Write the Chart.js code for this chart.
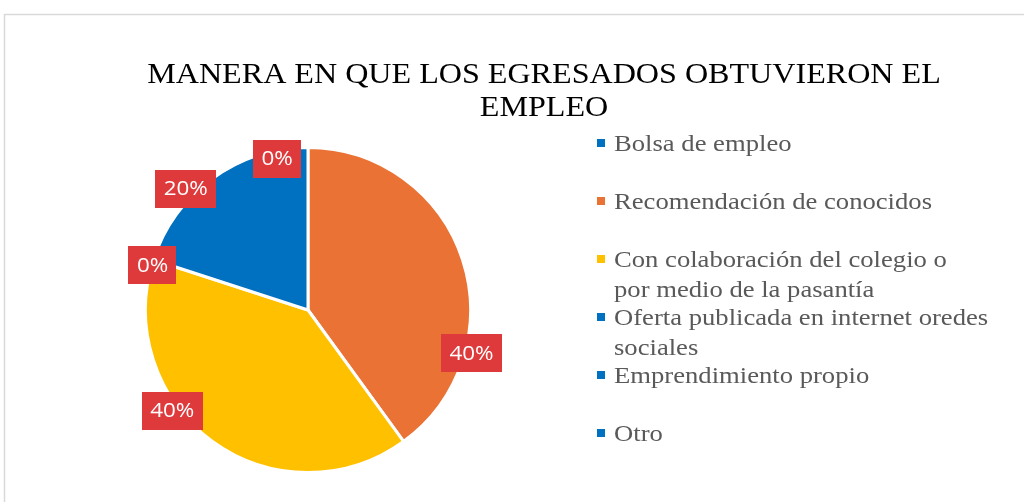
<!DOCTYPE html>
<html>
<head>
<meta charset="utf-8">
<script src="https://cdn.jsdelivr.net/npm/chart.js@4"></script>
<style>
html,body{margin:0;padding:0;background:#fff;overflow:hidden;}
#wrap{position:relative;width:1024px;height:502px;}
</style>
</head>
<body>
<div id="wrap"><canvas id="c" width="1024" height="502"></canvas></div>
<script>
// ---- data ----
const titleLines = ["MANERA EN QUE LOS EGRESADOS OBTUVIERON EL", "EMPLEO"];
const categories = [
  ["Bolsa de empleo"],
  ["Recomendación de conocidos"],
  ["Con colaboración del colegio o", "por medio de la pasantía"],
  ["Oferta publicada en internet oredes", "sociales"],
  ["Emprendimiento propio"],
  ["Otro"]
];
const values = [0, 40, 40, 0, 20, 0];
const sliceColors = ["#0070C0", "#E97234", "#FFC000", "#0070C0", "#0070C0", "#0070C0"];

// label placement styling (angle offset in degrees from slice middle, radius factor)
const labelAngleOffset = [-11.5, 32.7, 17.4, -2, -9.2, -11.5];
const labelRadiusFactor = [0.95, 1.04, 1.04, 0.995, 1.06, 0.95];

function scaledText(ctx, txt, x, y, sx) {
  ctx.save();
  ctx.translate(x, y);
  ctx.scale(sx, 1);
  ctx.fillText(txt, 0, 0);
  ctx.restore();
}

const framePlugin = {
  id: 'frame',
  beforeDraw(chart) {
    const ctx = chart.ctx;
    ctx.save();
    ctx.fillStyle = '#fff';
    ctx.fillRect(0, 0, chart.width, chart.height);
    ctx.strokeStyle = '#D9D9D9';
    ctx.lineWidth = 1.5;
    ctx.strokeRect(4.5, 14.5, 1040, 520);
    ctx.restore();
  }
};

const decorPlugin = {
  id: 'decor',
  afterDraw(chart) {
    const ctx = chart.ctx;
    ctx.save();
    // title
    ctx.fillStyle = '#000';
    ctx.font = '30px "Liberation Serif"';
    ctx.textAlign = 'center';
    ctx.textBaseline = 'alphabetic';
    titleLines.forEach((t, i) => scaledText(ctx, t, 544, 83 + i * 33, 1.07));

    // legend
    const sxL = 1.158;
    ctx.font = '23px "Liberation Serif"';
    ctx.textAlign = 'left';
    const lx = 614;
    let y = 151;
    chart.data.labels.forEach((lines, i) => {
      ctx.fillStyle = sliceColors[i];
      ctx.fillRect(597, y - 12, 8, 8);
      ctx.fillStyle = '#595959';
      lines.forEach((ln, k) => scaledText(ctx, ln, lx, y + k * 30, sxL));
      y += 58;
    });

    // data labels
    const meta = chart.getDatasetMeta(0);
    const total = values.reduce((a, b) => a + b, 0);
    const sxD = 1.12;
    ctx.font = '20px "Open Sans"';
    ctx.textAlign = 'center';
    ctx.textBaseline = 'middle';
    meta.data.forEach((arc, i) => {
      const p = arc.getProps(['x', 'y', 'startAngle', 'endAngle', 'outerRadius'], true);
      const mid = (p.startAngle + p.endAngle) / 2 + labelAngleOffset[i] * Math.PI / 180;
      const r = p.outerRadius * labelRadiusFactor[i];
      const cx = p.x + r * Math.cos(mid);
      const cy = p.y + r * Math.sin(mid);
      const txt = Math.round(values[i] / total * 100) + '%';
      const w = ctx.measureText(txt).width * sxD + 17;
      const h = 38;
      ctx.fillStyle = '#DF3A3B';
      ctx.fillRect(Math.round(cx - w / 2), Math.round(cy - h / 2), Math.round(w), h);
      ctx.fillStyle = '#fff';
      scaledText(ctx, txt, cx, cy + 1, sxD);
    });
    ctx.restore();
  }
};

new Chart(document.getElementById('c'), {
  type: 'pie',
  data: {
    labels: categories,
    datasets: [{
      data: values,
      backgroundColor: sliceColors,
      borderColor: '#ffffff',
      borderWidth: 3
    }]
  },
  options: {
    responsive: false,
    animation: false,
    devicePixelRatio: 1,
    layout: { padding: { left: 144, top: 146, right: 552, bottom: 28 } },
    plugins: { legend: { display: false }, title: { display: false }, tooltip: { enabled: false } }
  },
  plugins: [framePlugin, decorPlugin]
});
</script>
</body>
</html>
